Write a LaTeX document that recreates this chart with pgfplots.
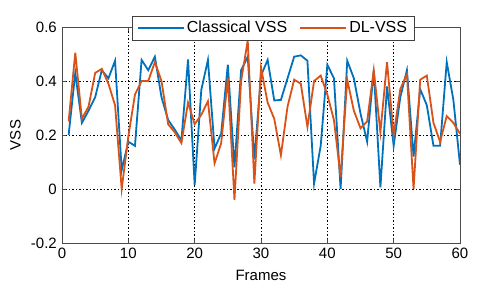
\documentclass[border=0pt]{standalone}
\usepackage{pgfplots}
\pgfplotsset{compat=1.18}
\usepackage{fontspec}
\setmainfont{Liberation Sans}
\definecolor{mblue}{RGB}{0,114,189}
\definecolor{morange}{RGB}{217,83,25}
\pgfplotstableread{
f c d
1 0.20 0.25
2 0.43 0.505
3 0.245 0.26
4 0.29 0.305
5 0.34 0.43
6 0.44 0.445
7 0.41 0.39
8 0.475 0.31
9 0.07 0.0
10 0.175 0.195
11 0.16 0.35
12 0.478 0.40
13 0.44 0.40
14 0.49 0.47
15 0.34 0.40
16 0.256 0.24
17 0.22 0.21
18 0.18 0.17
19 0.48 0.32
20 0.015 0.24
21 0.367 0.275
22 0.478 0.325
23 0.15 0.095
24 0.206 0.17
25 0.46 0.41
26 0.08 -0.04
27 0.44 0.40
28 0.49 0.55
29 0.11 0.02
30 0.42 0.45
31 0.478 0.32
32 0.328 0.26
33 0.33 0.125
34 0.41 0.305
35 0.49 0.405
36 0.495 0.39
37 0.475 0.23
38 0.02 0.40
39 0.16 0.42
40 0.46 0.35
41 0.41 0.255
42 0.0 0.045
43 0.475 0.405
44 0.41 0.29
45 0.28 0.225
46 0.175 0.25
47 0.44 0.44
48 0.006 0.21
49 0.38 0.47
50 0.16 0.20
51 0.34 0.37
52 0.44 0.425
53 0.12 0.0
54 0.37 0.405
55 0.31 0.42
56 0.16 0.245
57 0.16 0.175
58 0.47 0.27
59 0.33 0.245
60 0.09 0.205
}\datatable
\begin{document}
\fontsize{15}{17}\selectfont
\begin{tikzpicture}
\useasboundingbox (-62pt,-54pt) rectangle (418pt,243pt);
\begin{axis}[
  at={(0,0)}, anchor=south west,
  scale only axis, width=398pt, height=216pt,
  xmin=0, xmax=60, ymin=-0.2, ymax=0.6,
  xtick={0,10,...,60}, ytick={-0.2,0,0.2,0.4,0.6},
  yticklabels={-0.2,0,0.2,0.4,0.6},
  tick align=inside,
  major tick length=4pt,
  axis line style={draw=black!70, line width=0.6pt},
  tick style={draw=black!70, line width=0.5pt},
  grid=major,
  grid style={black, line width=0.5pt, dash pattern=on 1.5pt off 2pt},
  /pgf/number format/assume math mode=true,
  ticklabel style={font=\fontsize{15}{17}\selectfont},
  xlabel={Frames}, ylabel={VSS},
  label style={font=\fontsize{15}{17}\selectfont},
  xlabel style={at={(axis description cs:0.5,0)}, anchor=north, yshift=-22pt},
  ylabel style={at={(axis description cs:0,0.5)}, anchor=south, yshift=36pt},
  legend columns=2,
  legend style={at={(0.53,0.995)}, anchor=center, draw=black!75, fill=white,
    line width=0.6pt, font=\fontsize{16}{18}\selectfont,
    /tikz/every even column/.append style={column sep=10pt},
    inner xsep=5pt, inner ysep=3pt},
  legend image code/.code={\draw[#1, line width=2pt] (0pt,0pt) -- (46pt,0pt);},
]
\addplot[mblue, line width=1.8pt] table[x=f, y=c] {\datatable};
\addlegendentry{Classical VSS}
\addplot[morange, line width=1.8pt] table[x=f, y=d] {\datatable};
\addlegendentry{DL-VSS}
\end{axis}
\end{tikzpicture}
\end{document}
